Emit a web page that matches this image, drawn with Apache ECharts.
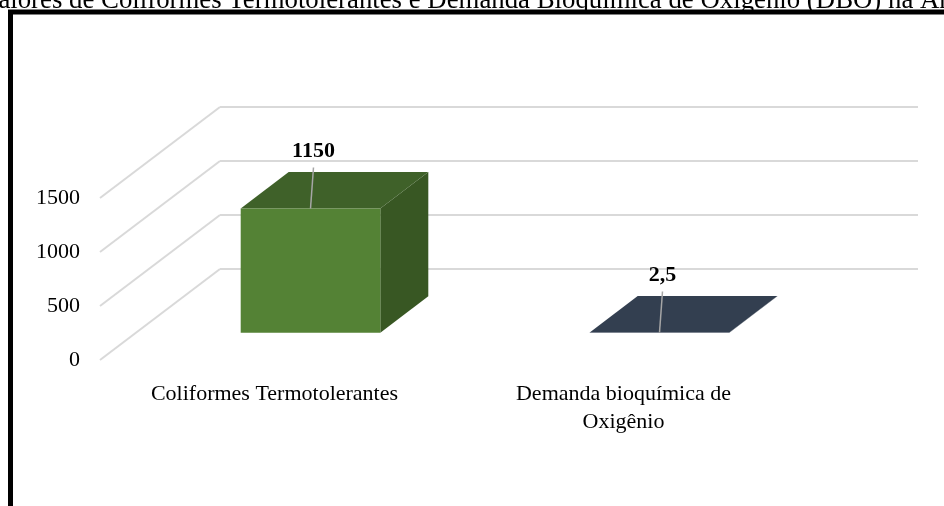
<!DOCTYPE html>
<html>
<head>
<meta charset="utf-8">
<script src="https://cdn.jsdelivr.net/npm/echarts@6/dist/echarts.min.js"></script>
<style>
  html, body { margin: 0; padding: 0; background: #fff; }
  #chart { width: 944px; height: 506px; }
</style>
</head>
<body>
<div id="chart"></div>
<script>
const chart = echarts.init(document.querySelector('#chart'));

const titleText = 'Valores de Coliformes Termotolerantes e Demanda Bioquímica de Oxigênio (DBO) na Ar';
const categories = ['Coliformes Termotolerantes', 'Demanda bioquímica de\nOxigênio'];
const values = [1150, 2.5];
const yTicks = [0, 500, 1000, 1500];

// faces: front, top, side
const faceColors = [
    ['#548235', '#3f6129', '#385723'],
    ['#333f50', '#333f50', '#2a3442']
];

const FONT = '"Liberation Serif", "Times New Roman", serif';
const DEPTH = [120, -91];   // offset from front plane to back wall
const FRONT = 0.3, BACK = 0.7;

const fmt = (v) => String(v).replace('.', ',');

function renderBox(params, api) {
    const i = api.value(0);
    const v = api.value(1);
    const base = api.coord([i, 0]);
    const top = api.coord([i, v]);
    const half = api.size([1, 0])[0] * 0.2;
    const fx = DEPTH[0] * FRONT, fy = DEPTH[1] * FRONT;
    const bx = DEPTH[0] * BACK, by = DEPTH[1] * BACK;
    const L = base[0] - half, R = base[0] + half;
    const c = faceColors[i];
    const front = [[L + fx, top[1] + fy], [R + fx, top[1] + fy], [R + fx, base[1] + fy], [L + fx, base[1] + fy]];
    const topFace = [[L + fx, top[1] + fy], [L + bx, top[1] + by], [R + bx, top[1] + by], [R + fx, top[1] + fy]];
    const side = [[R + fx, top[1] + fy], [R + bx, top[1] + by], [R + bx, base[1] + by], [R + fx, base[1] + fy]];
    const cx = base[0] + fx;
    const cy = top[1] + fy;
    const lx = cx + 3, ly = cy - 57;
    return {
        type: 'group',
        children: [
            { type: 'polygon', shape: { points: side }, style: { fill: c[2] } },
            { type: 'polygon', shape: { points: topFace }, style: { fill: c[1] } },
            { type: 'polygon', shape: { points: front }, style: { fill: c[0] } },
            { type: 'line', shape: { x1: lx, y1: ly + 16, x2: cx, y2: cy }, style: { stroke: '#a6a6a6', lineWidth: 1.5 } },
            {
                type: 'text',
                style: {
                    text: fmt(v), x: lx, y: ly,
                    font: 'bold 22px ' + FONT, fill: '#000',
                    align: 'center', verticalAlign: 'middle'
                }
            }
        ]
    };
}

function renderDiagonal(params, api) {
    const y = api.coord([0, api.value(0)])[1];
    const x0 = params.coordSys.x;
    return {
        type: 'line',
        shape: { x1: x0, y1: y, x2: x0 + DEPTH[0], y2: y + DEPTH[1] },
        style: { stroke: '#d9d9d9', lineWidth: 2 }
    };
}

chart.setOption({
    animation: false,
    backgroundColor: '#fff',
    textStyle: { fontFamily: FONT },
    graphic: [
        {
            type: 'text', left: -18, top: -13,
            style: { text: titleText, font: '26.8px ' + FONT, fill: '#000' }
        },
        {
            type: 'rect', shape: { x: 10.5, y: 12, width: 1000, height: 600 },
            style: { fill: 'none', stroke: '#000', lineWidth: 5 }, z: 10
        }
    ],
    grid: [
        { left: 100, right: 146, top: 198, bottom: 146 },
        { left: 220, right: 26, top: 107, bottom: 237 }
    ],
    xAxis: [
        {
            gridIndex: 0, type: 'category', data: categories,
            axisLine: { show: false }, axisTick: { show: false },
            axisLabel: { fontSize: 22, fontFamily: FONT, color: '#000', margin: 20, lineHeight: 28 }
        },
        { gridIndex: 1, type: 'category', data: categories, show: false }
    ],
    yAxis: [
        {
            gridIndex: 0, type: 'value', min: 0, max: 1500, interval: 500,
            splitLine: { show: false }, axisLine: { show: false }, axisTick: { show: false },
            axisLabel: { fontSize: 22, fontFamily: FONT, color: '#000', margin: 20, formatter: (v) => String(v) }
        },
        {
            gridIndex: 1, type: 'value', min: 0, max: 1500, interval: 500,
            axisLabel: { show: false }, axisLine: { show: false }, axisTick: { show: false },
            splitLine: { show: true, lineStyle: { color: '#d9d9d9', width: 2 } }
        }
    ],
    series: [
        {
            type: 'custom', xAxisIndex: 0, yAxisIndex: 0, z: 1,
            renderItem: renderDiagonal,
            data: yTicks.map((t) => [t]),
            encode: { y: 0 }
        },
        {
            type: 'custom', xAxisIndex: 0, yAxisIndex: 0, z: 5,
            renderItem: renderBox,
            data: values.map((v, i) => [i, v]),
            encode: { x: 0, y: 1 }
        }
    ]
});
</script>
</body>
</html>
